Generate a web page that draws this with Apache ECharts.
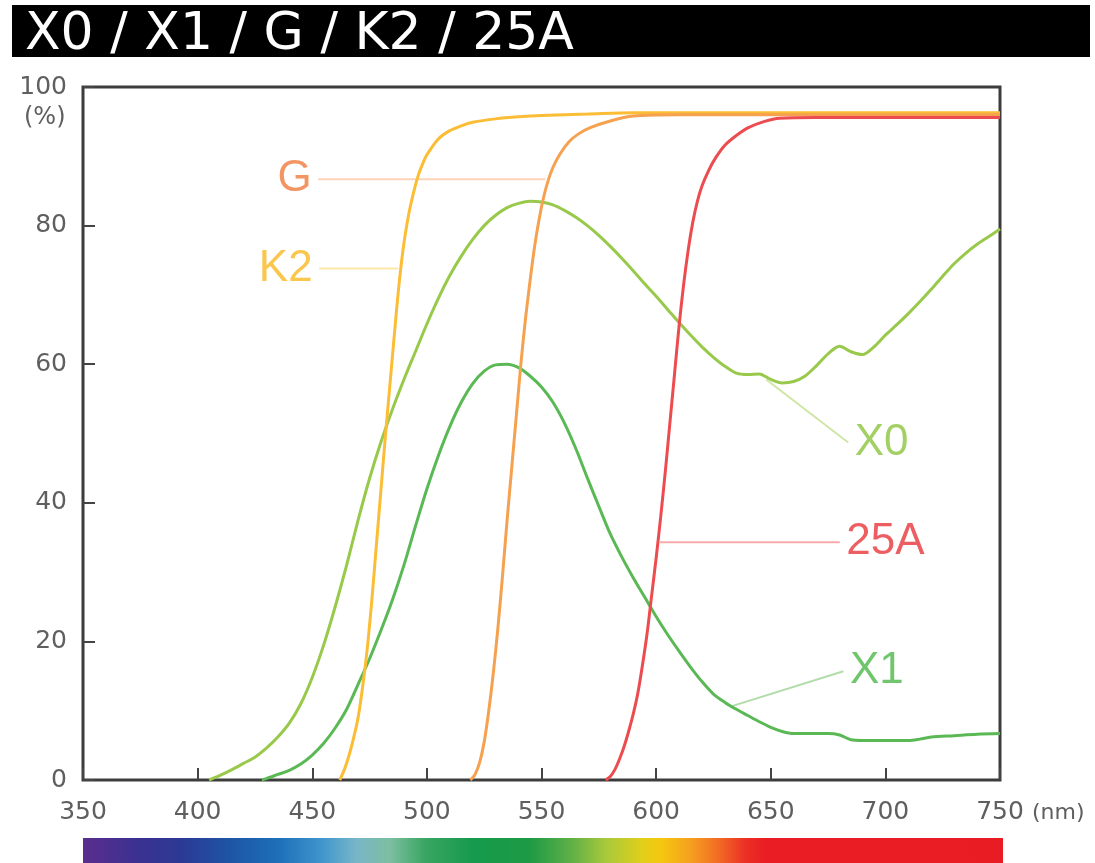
<!DOCTYPE html>
<html><head><meta charset="utf-8">
<script src="https://cdn.jsdelivr.net/npm/echarts@6/dist/echarts.min.js"></script>
<style>html,body{margin:0;padding:0;background:#fff}#c{width:1095px;height:863px}</style>
</head><body><div id="c"></div>
<script>
const chartTitle = 'X0 / X1 / G / K2 / 25A';
const xMin = 350, xMax = 750, xStep = 50;
const yMin = 0, yMax = 100, yStep = 20;

const x0Nm = [405,410,415,420,425,430,435,440,445,450,455,460,465,470,475,480,485,490,495,500,505,510,515,520,525,530,535,540,545,550,555,560,565,570,575,580,585,590,595,600,605,610,615,620,625,630,635,640,645,650,655,660,665,670,675,680,685,690,695,700,705,710,715,720,725,730,735,740,745,750];
const x0T  = [0,0.7,1.5,2.4,3.3,4.6,6.2,8.2,11,14.8,19.5,25,31,37.5,43.5,48.8,53.5,57.8,61.8,65.8,69.5,72.8,75.6,78,80,81.5,82.6,83.2,83.5,83.4,83,82.2,81.2,80,78.6,77,75.3,73.5,71.6,69.8,67.9,66,64.2,62.5,61,59.7,58.7,58.5,58.6,57.8,57.3,57.5,58.3,59.8,61.5,62.6,61.8,61.4,62.5,64.2,65.7,67.3,69,70.8,72.7,74.5,76,77.3,78.4,79.5];

const x1Nm = [428,430,435,440,445,450,455,460,465,470,475,480,485,490,495,500,505,510,515,520,525,530,535,540,545,550,555,560,565,570,575,580,585,590,595,600,605,610,615,620,625,630,635,640,645,650,655,660,665,670,675,680,685,690,700,710,715,720,730,740,750];
const x1T  = [0,0.2,0.8,1.4,2.3,3.6,5.3,7.5,10.2,13.8,17.5,21.6,26,31,36.6,42,46.8,51,54.5,57.2,59,59.9,60,59.5,58.3,56.7,54.5,51.5,47.8,43.6,39.5,35.5,32.2,29.2,26.4,23.6,21,18.6,16.3,14.2,12.4,11.2,10.2,9.3,8.4,7.6,7,6.7,6.7,6.7,6.7,6.5,5.8,5.7,5.7,5.7,5.9,6.2,6.4,6.6,6.7];

const k2Nm = [462,464,466,468,470,472,474,476,478,480,482,484,486,488,490,492,494,496,498,500,505,510,515,520,530,540,550,570,590,750];
const k2T  = [0,1.5,3.5,6,9,13.5,19,26,34,42,50,57.5,65,72,77.5,81.5,84.5,87,88.8,90.2,92.5,93.7,94.4,94.9,95.4,95.7,95.9,96.1,96.3,96.3];

const gNm = [519,521,523,525,527,529,531,533,535,537,539,541,543,545,547,549,551,553,555,558,562,566,571,580,590,610,750];
const gT  = [0,0.8,2.5,5.5,10,15.5,22,29.5,37.5,45,52.5,60,66.5,72,77,81,84.2,86.6,88.4,90.3,92.1,93.2,94.1,95.1,95.8,96,96];

const a25Nm = [578,580,582,584,586,588,590,592,594,596,598,600,602,604,606,608,610,612,614,616,618,620,623,626,630,635,640,647,654,670,750];
const a25T  = [0,0.5,1.5,3,4.8,7,9.5,12.5,16.5,21,26.5,32,38,44.5,51.5,58.5,65.5,71.5,76.5,80.5,83.5,85.7,88,89.8,91.6,93,94.1,95,95.5,95.6,95.6];

// leader lines: [start, end] in (nm, %)
const leaderNames = ['G', 'K2', 'X0', '25A', 'X1'];
const leaderStart = [[452.6, 86.7], [453, 73.8], [648, 57.8], [601.7, 34.3], [633.4, 10.7]];
const leaderEnd   = [[551.7, 86.7], [487.5, 73.8], [683.8, 48.7], [680.1, 34.3], [681.7, 15.7]];
const labelAtStart = [true, true, false, false, false];

const curveColors = {X0: '#98c94a', X1: '#5bb955', K2: '#fbbd35', G: '#f5a150', '25A': '#ec4c50'};
const leaderColors = {X0: '#cfe6a6', X1: '#b2dcaa', K2: '#fde7a8', G: '#fbd3b8', '25A': '#f6aaab'};
const textColors = {X0: '#8cc43e', X1: '#4db848', K2: '#f9b81e', G: '#f07a3c', '25A': '#e8363b'};

function zip(a, b) { return a.map((v, i) => [v, b[i]]); }

const curves = [
  ['X0', x0Nm, x0T], ['X1', x1Nm, x1T], ['K2', k2Nm, k2T], ['G', gNm, gT], ['25A', a25Nm, a25T]
];

const series = [];
leaderNames.forEach((n, i) => {
  series.push({
    type: 'line', silent: true, symbol: 'none', z: 1,
    data: [leaderStart[i], leaderEnd[i]],
    lineStyle: {color: leaderColors[n], width: 2}
  });
});
curves.forEach(([n, xs, ys]) => {
  series.push({
    name: n, type: 'line', smooth: 0.3, symbol: 'none', z: 3,
    data: zip(xs, ys),
    lineStyle: {color: curveColors[n], width: 3}
  });
});
leaderNames.forEach((n, i) => {
  const atStart = labelAtStart[i];
  series.push({
    type: 'scatter', silent: true, symbolSize: 1, z: 4,
    itemStyle: {color: 'rgba(0,0,0,0)'},
    data: [atStart ? leaderStart[i] : leaderEnd[i]],
    label: {
      show: true, formatter: n, position: atStart ? 'left' : 'right', distance: 6,
      color: textColors[n], fontSize: 44, fontFamily: 'Liberation Sans'
    }
  });
});

const spectrumStops = [
  [0, '#5a2e8e'], [0.062, '#3a3190'], [0.107, '#2b3a95'], [0.16, '#1e55a5'], [0.213, '#1d70b8'],
  [0.259, '#3f95cc'], [0.297, '#78b6c8'], [0.334, '#7cbfa0'], [0.372, '#39a562'], [0.425, '#159a4c'],
  [0.486, '#1e9a45'], [0.531, '#5fb046'], [0.569, '#a9c93b'], [0.607, '#e0cf1b'], [0.629, '#f5c70f'],
  [0.66, '#f6a01f'], [0.69, '#f26d24'], [0.72, '#ec2f25'], [0.743, '#ea1c24'], [1, '#e91c24']
];

const chart = echarts.init(document.getElementById('c'));
chart.setOption({
  animation: false,
  backgroundColor: '#fff',
  grid: {left: 83, right: 95, top: 87, bottom: 83, show: true, borderColor: '#3c3c3c', borderWidth: 3, backgroundColor: 'transparent'},
  xAxis: {
    type: 'value', min: xMin, max: xMax, interval: xStep,
    name: '(nm)', nameLocation: 'end', nameGap: 32,
    nameTextStyle: {color: '#5f5f5f', fontSize: 22, fontFamily: 'DejaVu Sans', align: 'left', verticalAlign: 'top', padding: [22, 0, 0, 0]},
    axisLine: {show: false},
    axisTick: {show: true, inside: true, length: 12, lineStyle: {color: '#444', width: 2}},
    splitLine: {show: false},
    axisLabel: {margin: 20, fontSize: 25, color: '#5f5f5f', fontFamily: 'DejaVu Sans'}
  },
  yAxis: {
    type: 'value', min: yMin, max: yMax, interval: yStep,
    axisLine: {show: false},
    axisTick: {show: true, inside: true, length: 12, lineStyle: {color: '#444', width: 2}},
    splitLine: {show: false},
    axisLabel: {margin: 16, fontSize: 25, color: '#5f5f5f', fontFamily: 'DejaVu Sans'}
  },
  graphic: [
    {type: 'rect', left: 12, top: 5, shape: {width: 1078, height: 52}, style: {fill: '#000'}, z: 0},
    {type: 'text', left: 25, top: 9, style: {text: chartTitle, fill: '#fff', font: '52px "DejaVu Sans"'}, z: 1},
    {type: 'text', left: 24, top: 106, style: {text: '(%)', fill: '#5f5f5f', font: '24px "DejaVu Sans"'}},
    {type: 'rect', left: 83, top: 838, shape: {width: 920, height: 30},
     style: {fill: new echarts.graphic.LinearGradient(0, 0, 1, 0, spectrumStops.map(s => ({offset: s[0], color: s[1]})))}}
  ],
  series: series
});
</script></body></html>
